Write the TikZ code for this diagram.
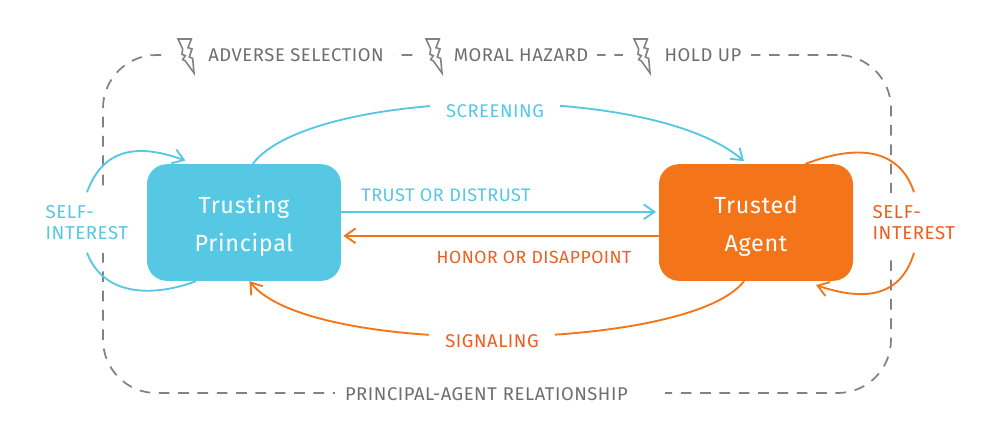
\documentclass[tikz,border=0pt]{standalone}
\usepackage{fontspec}
\setmainfont[LetterSpace=3]{Fira Sans}
\usetikzlibrary{arrows.meta,calc,positioning}
\definecolor{skyblue}{HTML}{56C8E4}
\definecolor{carrot}{HTML}{F47419}
\definecolor{redorange}{HTML}{EE5F1E}
\definecolor{slategrey}{HTML}{6D6E71}
\definecolor{framegrey}{HTML}{808285}
\newcommand{\firstline}{\rule{0pt}{18pt}}
\tikzset{
  party/.style={
    rounded corners=15pt,
    align=center,
    text=white,
    minimum width=145.5pt,
    minimum height=87.5pt,
    inner sep=0pt,
    font=\fontsize{17.5}{28.5}\selectfont
  },
  caption/.style={
    fill=white,
    inner xsep=7pt,
    inner ysep=3pt,
    font=\fontsize{13.8}{15}\selectfont
  },
  selflabel/.style={
    fill=white,
    align=left,
    inner sep=0pt,
    minimum height=45pt,
    text width=62pt,
    font=\fontsize{14}{15.5}\selectfont
  },
  flow/.style={
    line width=1.4pt,
    -{Straight Barb[length=8pt,width=11pt,line width=1.4pt]}
  },
  plain/.style={
    line width=1.4pt
  },
  border/.style={
    draw=framegrey,
    line width=1.3pt,
    dash pattern=on 8pt off 6.5pt,
    rounded corners=40pt,
    minimum width=591pt,
    minimum height=253.5pt
  },
  bolt/.pic={
    \fill[white] (-14pt,-15pt) rectangle (16pt,15pt);
    \draw[framegrey,line width=1.2pt,line join=miter]
      (-6pt,13.5pt) -- (4pt,13.5pt) -- (1.5pt,7pt) -- (4.5pt,6pt) -- (2.5pt,0pt) -- (5pt,-1pt) -- (6pt,-12pt)
      -- (-0.5pt,-3pt) -- (-2.5pt,-2pt) -- (-0.5pt,1pt) -- (-3pt,2pt) -- (-2.5pt,6pt) -- cycle;
  }
}
\begin{document}
\begin{tikzpicture}[x=0.75pt,y=-0.75pt]
\useasboundingbox (0,0) rectangle (1000,433);
\node[border] (frame) at (497,224) {};

\node[party, fill=skyblue] (principal) at (244,222.5) {\firstline Trusting\\Principal};
\node[party, fill=carrot] (agent) at (756,222.5) {\firstline Trusted\\Agent};

% curved links over the top and under the bottom
\draw[flow, skyblue] ([xshift=79.5pt]principal.north west) .. controls (310,88) and (650,80) .. ([xshift=64pt,yshift=2pt]agent.north west);
\draw[flow, carrot] ([xshift=64pt]agent.south west) .. controls (690,352) and (310,358) .. ([xshift=77pt]principal.south west);

\node[caption, text=skyblue, inner xsep=12pt] (screening) at (495,111) {SCREENING};
\node[caption, text=redorange, inner xsep=12pt] (signaling) at (492,341) {SIGNALING};

% straight links between the two parties
\coordinate (trustout) at ([yshift=8pt]principal.east);
\coordinate (trustin) at ([yshift=8pt]agent.west);
\coordinate (honorout) at ([yshift=-10pt]agent.west);
\coordinate (honorin) at ([yshift=-10pt]principal.east);
\draw[flow, skyblue, shorten >=2pt] (trustout) -- (trustin);
\draw[flow, carrot, shorten >=1.5pt] (honorout) -- (honorin);
\node[font=\fontsize{13.6}{15}\selectfont, text=skyblue] (trust) at (446,195) {TRUST OR DISTRUST};
\node[font=\fontsize{13.2}{15}\selectfont, text=redorange] (honor) at (534,257) {HONOR OR DISAPPOINT};

% self-interest loops
\node[selflabel, text=skyblue] (selfleft) at (87,222.5) {SELF-\\INTEREST};
\node[selflabel, text=redorange] (selfright) at (914,222.5) {SELF-\\INTEREST};
\draw[flow, skyblue] (selfleft.north) .. controls (105,143) and (145,146) .. ([xshift=29pt,yshift=2.5pt]principal.north west);
\draw[plain, skyblue] (selfleft.south) .. controls (105,300) and (160,295) .. ([xshift=37pt]principal.south west);
\draw[plain, carrot] ([xshift=110pt]agent.north west) .. controls (860,143) and (900,150) .. (selfright.north);
\draw[flow, carrot] (selfright.south) .. controls (900,300) and (860,300) .. ([xshift=118pt,yshift=-3pt]agent.south west);

% labels sitting on the dashed frame
\pic at (186,57) {bolt};
\node[caption, text=slategrey] (adverse) at (296,55.5) {ADVERSE SELECTION};
\pic at (434,57) {bolt};
\node[caption, text=slategrey] (moral) at (521,55.5) {MORAL HAZARD};
\pic at (642,57) {bolt};
\node[caption, text=slategrey] (holdup) at (703,55.5) {HOLD UP};
\node[caption, text=slategrey, inner xsep=7.5pt, text width=232.5pt, align=left] (relation) at (500,394) {PRINCIPAL-AGENT RELATIONSHIP};
\end{tikzpicture}
\end{document}
